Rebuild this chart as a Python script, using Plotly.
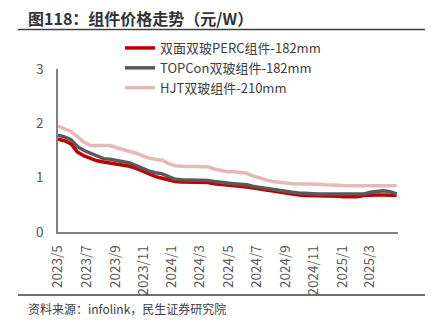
import pandas as pd
import plotly.graph_objects as go

dates = pd.date_range("2023-05-01", periods=53, freq="14D")

perc = [1.71, 1.68, 1.62, 1.47, 1.40, 1.35, 1.31, 1.29, 1.27, 1.25,
        1.24, 1.21, 1.17, 1.12, 1.07, 1.02, 0.99, 0.96, 0.93, 0.92,
        0.92, 0.92, 0.92, 0.91, 0.89, 0.88, 0.87, 0.86, 0.85, 0.83,
        0.81, 0.79, 0.77, 0.75, 0.74, 0.72, 0.70, 0.68, 0.67, 0.67,
        0.67, 0.67, 0.67, 0.66, 0.65, 0.65, 0.65, 0.67, 0.68, 0.68,
        0.68, 0.68, 0.67]
topcon = [1.78, 1.75, 1.70, 1.57, 1.50, 1.45, 1.40, 1.35, 1.34, 1.32,
          1.29, 1.27, 1.22, 1.17, 1.12, 1.09, 1.07, 1.02, 0.97, 0.96,
          0.96, 0.96, 0.96, 0.95, 0.93, 0.91, 0.90, 0.89, 0.88, 0.87,
          0.84, 0.82, 0.80, 0.78, 0.77, 0.75, 0.73, 0.72, 0.71, 0.70,
          0.70, 0.70, 0.70, 0.70, 0.69, 0.69, 0.69, 0.70, 0.73, 0.75,
          0.76, 0.74, 0.70]
hjt = [1.95, 1.90, 1.85, 1.75, 1.65, 1.59, 1.59, 1.59, 1.59, 1.55,
       1.52, 1.49, 1.45, 1.40, 1.36, 1.34, 1.32, 1.26, 1.22, 1.21,
       1.21, 1.21, 1.21, 1.20, 1.16, 1.13, 1.11, 1.11, 1.10, 1.08,
       1.03, 0.99, 0.96, 0.93, 0.91, 0.90, 0.89, 0.89, 0.89, 0.88,
       0.88, 0.87, 0.87, 0.86, 0.85, 0.85, 0.85, 0.85, 0.85, 0.85,
       0.85, 0.85, 0.85]

series_names = ["双面双玻PERC组件-182mm", "TOPCon双玻组件-182mm", "HJT双玻组件-210mm"]
tick_vals = ["2023-05-01", "2023-07-01", "2023-09-01", "2023-11-01", "2024-01-01",
             "2024-03-01", "2024-05-01", "2024-07-01", "2024-09-01", "2024-11-01",
             "2025-01-01", "2025-03-01"]
tick_text = ["2023/5", "2023/7", "2023/9", "2023/11", "2024/1", "2024/3",
             "2024/5", "2024/7", "2024/9", "2024/11", "2025/1", "2025/3"]

FONT = "Noto Sans CJK SC"
colors = ["#C00000", "#595959", "#E6B9B8"]

fig = go.Figure()
for name, vals, col in zip(series_names, [perc, topcon, hjt], colors):
    fig.add_trace(go.Scatter(x=dates, y=vals, name=name, mode="lines",
                             line=dict(color=col, width=3.5)))

# plot area: x 58..398, y 69..232
L, R, T, B = 58, 398, 69, 232
W, H = R - L, B - T
def px(x):
    return (x - L) / W
def py(y):
    return (B - y) / H

fig.update_layout(
    width=432, height=330,
    margin=dict(l=L, r=432 - R, t=T, b=330 - B),
    paper_bgcolor="white", plot_bgcolor="white",
    font=dict(family=FONT, color="#404040", size=13),
    showlegend=True,
    legend=dict(x=px(120), y=py(33), xanchor="left", yanchor="top",
                bgcolor="rgba(0,0,0,0)", font=dict(size=13, color="#404040"),
                tracegroupgap=0, itemwidth=30),
    xaxis=dict(type="date", range=["2023-05-01", "2025-05-01"],
               tickvals=tick_vals, ticktext=tick_text, tickangle=-90,
               showgrid=False, showline=True, linecolor="#808080", linewidth=1.5,
               ticks="", ticklabelstandoff=6,
               tickfont=dict(size=13.5, color="#595959")),
    yaxis=dict(range=[0, 3], tickvals=[0, 1, 2, 3], showgrid=False,
               showline=True, linecolor="#808080", linewidth=1.5, ticks="",
               zeroline=False, ticklabelstandoff=10,
               tickfont=dict(size=13.5, color="#595959")),
)

fig.add_annotation(text="<b>图118：组件价格走势（元/W）</b>", xref="paper", yref="paper",
                   x=px(26), y=py(18), xanchor="left", yanchor="middle", showarrow=False,
                   font=dict(size=16, color="#333333", family=FONT))
fig.add_annotation(text="资料来源：infolink，民生证券研究院", xref="paper", yref="paper",
                   x=px(26), y=py(308), xanchor="left", yanchor="middle", showarrow=False,
                   font=dict(size=12, color="#404040", family=FONT))
fig.add_shape(type="line", xref="paper", yref="paper", x0=px(18), x1=px(425),
              y0=py(29.5), y1=py(29.5), line=dict(color="#404040", width=1.5))
fig.add_shape(type="line", xref="paper", yref="paper", x0=px(18), x1=px(425),
              y0=py(295), y1=py(295), line=dict(color="#404040", width=1.5))

fig.write_html("out.html")
